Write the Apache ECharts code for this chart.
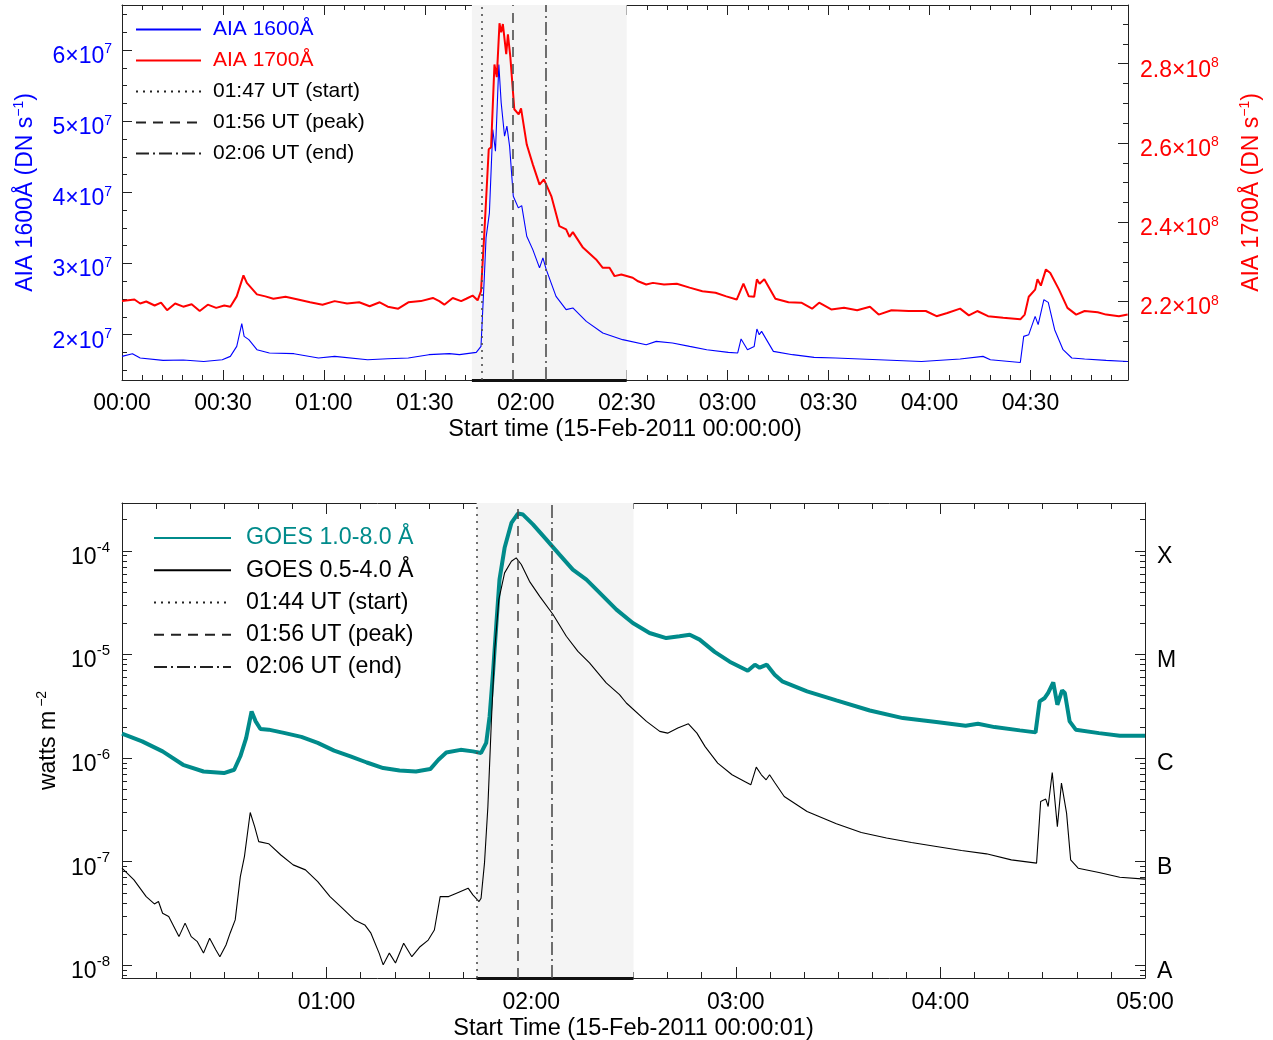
<!DOCTYPE html>
<html>
<head>
<meta charset="utf-8">
<title>15-Feb-2011 flare: AIA UV and GOES X-ray light curves</title>
<script src="https://cdn.jsdelivr.net/npm/echarts@6/dist/echarts.min.js"></script>
<style>
  html, body { margin: 0; padding: 0; background: #ffffff; }
  #chart { width: 1273px; height: 1040px; }
</style>
</head>
<body>
<div id="chart"></div>
<script>
// ---------------------------------------------------------------------------
// AIA UV light curves, time in minutes after 15-Feb-2011 00:00:00, DN s^-1
// ---------------------------------------------------------------------------
const aia1600Time = [0, 3.1, 5.4, 12.2, 18.2, 24.3, 29.8, 32.2, 34.1, 35.6,
  36.3, 37.7, 40.1, 43.8, 51.1, 58.4, 63.2, 73.0, 79.0, 85.1,
  91.2, 97.3, 100.3, 105.3, 106.7, 107.7, 108.2, 109.2, 110.2, 111.0,
  112.0, 112.7, 113.7, 114.4, 115.2, 116.3, 117.8, 118.8, 120.3, 122.1,
  124.1, 125.1, 126.1, 129.0, 132.0, 134.0, 138.0, 142.9, 148.8, 155.8,
  158.8, 163.6, 168.7, 173.8, 180.2, 183.0, 184.0, 185.9, 187.9, 188.7,
  189.4, 190.1, 193.6, 199.3, 205.7, 212.1, 224.9, 237.6, 249.1, 255.9,
  258.1, 267.0, 268.0, 269.5, 271.4, 272.3, 274.0, 275.3, 277.2, 279.7,
  282.3, 286.1, 292.5, 298.9];
const aia1600 = [1.695e7, 1.733e7, 1.672e7, 1.639e7, 1.644e7, 1.624e7, 1.648e7, 1.695e7, 1.835e7, 2.155e7,
  1.976e7, 1.930e7, 1.789e7, 1.743e7, 1.733e7, 1.672e7, 1.695e7, 1.648e7, 1.662e7, 1.672e7,
  1.719e7, 1.733e7, 1.719e7, 1.751e7, 1.835e7, 2.820e7, 3.360e7, 3.712e7, 4.883e7, 4.578e7,
  5.797e7, 5.259e7, 4.789e7, 4.930e7, 4.648e7, 3.945e7, 3.782e7, 3.814e7, 3.383e7, 3.195e7,
  2.938e7, 3.079e7, 2.914e7, 2.539e7, 2.352e7, 2.376e7, 2.187e7, 2.024e7, 1.930e7, 1.859e7,
  1.906e7, 1.883e7, 1.835e7, 1.789e7, 1.751e7, 1.743e7, 1.940e7, 1.789e7, 1.835e7, 2.080e7,
  2.000e7, 2.046e7, 1.765e7, 1.719e7, 1.681e7, 1.672e7, 1.648e7, 1.624e7, 1.658e7, 1.695e7,
  1.648e7, 1.610e7, 1.976e7, 2.000e7, 2.257e7, 2.141e7, 2.492e7, 2.454e7, 2.070e7, 1.789e7,
  1.672e7, 1.658e7, 1.639e7, 1.624e7];

const aia1700Time = [0, 3.7, 5.4, 7.2, 9.7, 11.6, 13.4, 15.8, 18.2, 20.7,
  23.1, 25.5, 28.0, 30.4, 32.2, 34.1, 36.1, 37.1, 40.1, 42.6,
  45.0, 48.6, 52.3, 55.9, 59.6, 63.2, 66.9, 70.5, 73.6, 76.6,
  79.0, 82.1, 85.1, 88.8, 92.4, 94.3, 95.8, 98.3, 100.8, 102.3,
  104.2, 105.7, 106.7, 107.7, 109.0, 109.7, 110.7, 111.4, 112.2, 112.7,
  113.2, 114.2, 114.7, 115.4, 116.6, 117.9, 118.6, 120.3, 122.1, 124.1,
  125.4, 127.6, 130.0, 132.0, 133.0, 134.0, 137.0, 140.9, 142.9, 144.9,
  146.4, 148.4, 151.8, 153.4, 155.8, 157.8, 161.1, 164.9, 168.7, 172.5,
  176.4, 179.6, 182.7, 184.7, 186.3, 187.9, 188.7, 189.5, 190.9, 194.2,
  198.1, 201.9, 205.1, 207.2, 210.8, 214.6, 218.5, 222.3, 224.9, 228.7,
  233.8, 238.9, 242.1, 245.3, 249.1, 251.7, 254.2, 257.4, 261.9, 267.0,
  268.3, 269.5, 271.4, 272.1, 273.1, 274.6, 275.9, 278.5, 281.0, 283.6,
  286.1, 290.0, 292.5, 296.3, 298.9];
const aia1700 = [2.201e8, 2.205e8, 2.195e8, 2.200e8, 2.190e8, 2.197e8, 2.178e8, 2.195e8, 2.187e8, 2.193e8,
  2.176e8, 2.192e8, 2.184e8, 2.190e8, 2.187e8, 2.213e8, 2.266e8, 2.247e8, 2.218e8, 2.213e8,
  2.207e8, 2.212e8, 2.205e8, 2.198e8, 2.192e8, 2.201e8, 2.195e8, 2.198e8, 2.188e8, 2.198e8,
  2.187e8, 2.182e8, 2.198e8, 2.201e8, 2.209e8, 2.201e8, 2.192e8, 2.209e8, 2.201e8, 2.207e8,
  2.215e8, 2.203e8, 2.226e8, 2.374e8, 2.584e8, 2.589e8, 2.798e8, 2.766e8, 2.902e8, 2.879e8,
  2.900e8, 2.824e8, 2.874e8, 2.819e8, 2.685e8, 2.672e8, 2.687e8, 2.596e8, 2.546e8, 2.495e8,
  2.508e8, 2.466e8, 2.390e8, 2.382e8, 2.363e8, 2.375e8, 2.336e8, 2.306e8, 2.285e8, 2.285e8,
  2.264e8, 2.268e8, 2.260e8, 2.251e8, 2.243e8, 2.247e8, 2.243e8, 2.245e8, 2.235e8, 2.226e8,
  2.222e8, 2.213e8, 2.205e8, 2.245e8, 2.213e8, 2.212e8, 2.256e8, 2.245e8, 2.256e8, 2.207e8,
  2.198e8, 2.197e8, 2.182e8, 2.197e8, 2.180e8, 2.184e8, 2.178e8, 2.187e8, 2.167e8, 2.178e8,
  2.176e8, 2.176e8, 2.163e8, 2.171e8, 2.182e8, 2.165e8, 2.176e8, 2.163e8, 2.159e8, 2.155e8,
  2.167e8, 2.212e8, 2.230e8, 2.256e8, 2.240e8, 2.281e8, 2.272e8, 2.230e8, 2.184e8, 2.167e8,
  2.176e8, 2.173e8, 2.167e8, 2.163e8, 2.167e8];

// ---------------------------------------------------------------------------
// GOES X-ray flux, time in minutes after 15-Feb-2011 00:00:01, W m^-2
// ---------------------------------------------------------------------------
const goesLongTime = [0, 5.9, 11.9, 17.9, 23.9, 29.9, 32.9, 34.7, 36.4, 38.0,
  39.2, 40.6, 43.0, 47.8, 52.6, 57.4, 62.2, 67.0, 71.8, 76.6,
  81.4, 86.2, 90.4, 92.8, 95.1, 99.3, 102.9, 105.3, 106.8, 107.8,
  108.8, 109.8, 110.7, 112.2, 114.2, 116.1, 117.6, 120.5, 124.4, 128.3,
  132.2, 136.2, 140.1, 145.0, 149.8, 154.7, 159.6, 163.5, 166.5, 169.4,
  173.8, 178.2, 183.5, 185.6, 187.0, 189.1, 191.4, 193.6, 200.9, 209.5,
  219.3, 229.0, 238.8, 247.4, 251.0, 255.9, 263.3, 267.9, 269.1, 270.6,
  271.6, 273.1, 274.3, 275.7, 276.5, 277.9, 279.7, 286.5, 292.6, 300];
const goesLong = [1.72e-6, 1.45e-6, 1.16e-6, 8.61e-7, 7.42e-7, 7.16e-7, 7.71e-7, 1.04e-6, 1.56e-6, 2.82e-6,
  2.26e-6, 1.91e-6, 1.88e-6, 1.74e-6, 1.60e-6, 1.40e-6, 1.18e-6, 1.04e-6, 9.06e-7, 8.00e-7,
  7.59e-7, 7.42e-7, 7.83e-7, 9.63e-7, 1.13e-6, 1.20e-6, 1.16e-6, 1.12e-6, 1.40e-6, 2.52e-6,
  6.62e-6, 2.01e-5, 5.28e-5, 1.07e-4, 1.86e-4, 2.29e-4, 2.24e-4, 1.80e-4, 1.29e-4, 9.21e-5,
  6.59e-5, 5.28e-5, 3.93e-5, 2.71e-5, 2.01e-5, 1.61e-5, 1.44e-5, 1.50e-5, 1.55e-5, 1.39e-5,
  1.06e-5, 8.52e-6, 6.97e-6, 7.97e-6, 7.45e-6, 7.97e-6, 6.38e-6, 5.50e-6, 4.40e-6, 3.60e-6,
  2.88e-6, 2.43e-6, 2.23e-6, 2.05e-6, 2.14e-6, 1.99e-6, 1.85e-6, 1.77e-6, 3.52e-6, 3.80e-6,
  4.25e-6, 5.37e-6, 3.27e-6, 4.50e-6, 4.25e-6, 2.26e-6, 1.88e-6, 1.74e-6, 1.64e-6, 1.64e-6];

const goesShortTime = [0, 3.5, 7.1, 9.5, 10.7, 11.9, 13.7, 16.7, 18.5, 20.3,
  22.1, 23.9, 25.7, 27.5, 28.7, 30.5, 31.7, 33.2, 34.7, 35.9,
  37.6, 38.9, 40.1, 43.0, 46.6, 50.2, 53.8, 57.4, 61.0, 64.6,
  68.2, 71.2, 73.0, 75.4, 76.6, 78.4, 80.2, 82.6, 85.0, 87.4,
  89.8, 91.6, 93.3, 95.8, 98.1, 101.5, 102.9, 104.7, 105.3, 106.3,
  107.3, 108.3, 109.3, 110.5, 112.2, 114.2, 115.6, 117.1, 119.5, 122.5,
  126.4, 130.3, 133.7, 137.1, 142.0, 145.9, 147.9, 153.8, 157.7, 160.0,
  163.0, 166.1, 168.6, 171.0, 174.7, 178.9, 182.6, 184.4, 186.0, 187.5,
  188.9, 189.9, 191.4, 194.2, 200.9, 209.5, 216.8, 224.2, 231.5, 238.8,
  246.2, 253.5, 260.8, 268.2, 269.4, 270.9, 271.6, 272.8, 274.3, 275.5,
  277.0, 278.2, 280.4, 286.5, 292.6, 300];
const goesShort = [8.65e-8, 6.67e-8, 4.60e-8, 3.91e-8, 4.12e-8, 3.18e-8, 2.95e-8, 1.89e-8, 2.55e-8, 1.89e-8,
  1.69e-8, 1.31e-8, 1.82e-8, 1.41e-8, 1.21e-8, 1.57e-8, 2.04e-8, 2.74e-8, 7.18e-8, 1.12e-7,
  2.98e-7, 2.18e-7, 1.56e-7, 1.49e-7, 1.16e-7, 9.31e-8, 8.33e-8, 6.42e-8, 4.60e-8, 3.56e-8,
  2.74e-8, 2.45e-8, 2.04e-8, 1.31e-8, 1.01e-8, 1.31e-8, 1.05e-8, 1.63e-8, 1.21e-8, 1.51e-8,
  1.75e-8, 2.19e-8, 4.60e-8, 4.60e-8, 4.96e-8, 5.55e-8, 4.78e-8, 4.12e-8, 4.44e-8, 9.67e-8,
  3.41e-7, 2.18e-6, 1.11e-5, 3.38e-5, 6.13e-5, 7.94e-5, 8.56e-5, 7.38e-5, 5.08e-5, 3.64e-5,
  2.43e-5, 1.50e-5, 1.07e-5, 8.28e-6, 5.31e-6, 4.09e-6, 3.40e-6, 2.26e-6, 1.81e-6, 1.74e-6,
  1.95e-6, 2.14e-6, 1.74e-6, 1.29e-6, 8.95e-7, 6.90e-7, 5.94e-7, 5.52e-7, 8.18e-7, 6.90e-7,
  6.17e-7, 6.90e-7, 5.81e-7, 4.26e-7, 3.05e-7, 2.32e-7, 1.91e-7, 1.69e-7, 1.53e-7, 1.40e-7,
  1.28e-7, 1.19e-7, 1.04e-7, 9.67e-8, 3.81e-7, 4.02e-7, 3.41e-7, 7.26e-7, 2.18e-7, 5.73e-7,
  2.94e-7, 1.04e-7, 8.65e-8, 7.85e-8, 7.08e-8, 6.78e-8];

// ---------------------------------------------------------------------------
// Flare timing (minutes) and tick labels
// ---------------------------------------------------------------------------
const aiaEventTimes = [107, 116, 126];
const aiaEventNames = ['01:47 UT (start)', '01:56 UT (peak)', '02:06 UT (end)'];
const goesEventTimes = [104, 116, 126];
const goesEventNames = ['01:44 UT (start)', '01:56 UT (peak)', '02:06 UT (end)'];
const flareWindow = [104, 150];

const aiaTimeTicks = [0, 30, 60, 90, 120, 150, 180, 210, 240, 270];
const goesTimeTicks = [60, 120, 180, 240, 300];
const aia1600Ticks = [2e7, 3e7, 4e7, 5e7, 6e7];
const aia1700Ticks = [2.2e8, 2.4e8, 2.6e8, 2.8e8];
const goesDecades = [-8, -7, -6, -5, -4];
const goesClasses = ['A', 'B', 'C', 'M', 'X'];

// ---------------------------------------------------------------------------
const FONT = "'Liberation Sans', Arial, Helvetica, sans-serif";
const FS = 23;          // tick labels and axis titles
const AXIS = '#222';
const BLUE = '#0000ff';
const RED = '#ff0000';
const TEAL = '#008b8b';
const EVENT = '#4d4d4d';
const EVENT_DASH = [[2, 5], [10, 7], [13, 4, 2, 4]];

// axis extents
const aiaX = [0, 299];
const goesX = [0, 300];
const y1600 = [1.363e7, 6.633e7];
const y1700 = [2.002e8, 2.948e8];
const yGoes = [-8.123, -3.538];

const hhmm = m => String(Math.floor(m / 60)).padStart(2, '0') + ':' + String(Math.round(m % 60)).padStart(2, '0');

// evenly spaced minor tick positions between majors
function minorTicks(lo, hi, step, majorStep) {
  const out = [];
  const n0 = Math.ceil(lo / step - 1e-9), n1 = Math.floor(hi / step + 1e-9);
  for (let n = n0; n <= n1; n++) {
    const v = n * step;
    const r = v / majorStep;
    if (Math.abs(r - Math.round(r)) > 1e-6) out.push(v);
  }
  return out;
}
// logarithmic minor ticks (2..9 x 10^n), in log10 units
function logMinorTicks(lo, hi) {
  const out = [];
  for (let n = Math.floor(lo) - 1; n <= Math.ceil(hi); n++) {
    for (let k = 2; k <= 9; k++) {
      const v = n + Math.log10(k);
      if (v >= lo && v <= hi) out.push(v);
    }
  }
  return out;
}

function tickAxis(gridIndex, position, extent, ticks, len, extra) {
  return Object.assign({
    type: 'value', gridIndex, position, min: extent[0], max: extent[1],
    axisLine: { show: false, onZero: false },
    splitLine: { show: false },
    axisTick: { show: true, inside: true, length: len, customValues: ticks,
      lineStyle: { color: AXIS, width: 1 } },
    axisLabel: { show: false }
  }, extra || {});
}
const lineOn = { show: true, onZero: false, lineStyle: { color: AXIS, width: 1 } };

const supRich = (color, base, sup, lift) => ({
  b: { fontFamily: FONT, fontSize: base, lineHeight: 24, color },
  s: { fontFamily: FONT, fontSize: sup, lineHeight: sup, padding: [0, 0, lift, 0], color }
});
const titleRich = color => ({
  a: { fontFamily: FONT, fontSize: FS, color },
  s: { fontFamily: FONT, fontSize: 14, padding: [0, 0, 14, 0], color }
});

// ---------------------------------------------------------------------------
// axes: grid 0 = AIA panel, grid 1 = GOES panel
// ---------------------------------------------------------------------------
const xAxes = [
  tickAxis(0, 'bottom', aiaX, aiaTimeTicks, 10, {
    axisLine: lineOn,
    name: 'Start time (15-Feb-2011 00:00:00)', nameLocation: 'middle', nameGap: 38,
    nameTextStyle: { fontFamily: FONT, fontSize: 23.5, color: '#000' },
    axisLabel: { show: true, customValues: aiaTimeTicks, formatter: v => hhmm(v), margin: 12,
      fontFamily: FONT, fontSize: FS, color: '#000' }
  }),
  tickAxis(0, 'bottom', aiaX, minorTicks(aiaX[0], aiaX[1], 6, 30), 5),
  tickAxis(0, 'top', aiaX, aiaTimeTicks, 10, { axisLine: lineOn }),
  tickAxis(0, 'top', aiaX, minorTicks(aiaX[0], aiaX[1], 6, 30), 5),

  tickAxis(1, 'bottom', goesX, goesTimeTicks, 11, {
    axisLine: lineOn,
    name: 'Start Time (15-Feb-2011 00:00:01)', nameLocation: 'middle', nameGap: 39,
    nameTextStyle: { fontFamily: FONT, fontSize: 23.5, color: '#000' },
    axisLabel: { show: true, customValues: goesTimeTicks, formatter: v => hhmm(v), margin: 13,
      fontFamily: FONT, fontSize: FS, color: '#000' }
  }),
  tickAxis(1, 'bottom', goesX, minorTicks(goesX[0], goesX[1], 10, 60), 6),
  tickAxis(1, 'top', goesX, goesTimeTicks, 11, { axisLine: lineOn }),
  tickAxis(1, 'top', goesX, minorTicks(goesX[0], goesX[1], 10, 60), 6)
];

const yAxes = [
  tickAxis(0, 'left', y1600, aia1600Ticks, 10, {
    axisLine: lineOn,
    name: '{a|AIA 1600Å (DN s}{s|−1}{a|)}', nameLocation: 'middle', nameGap: 82, nameRotate: 90,
    nameTextStyle: { color: BLUE, rich: titleRich(BLUE) },
    axisLabel: { show: true, customValues: aia1600Ticks, margin: 10, padding: [13, 0, 0, 0],
      formatter: v => '{b|' + Math.round(v / 1e7) + '×10}{s|7}',
      rich: supRich(BLUE, FS, 14, 14) }
  }),
  tickAxis(0, 'left', y1600, minorTicks(y1600[0], y1600[1], 0.25e7, 1e7), 5),
  tickAxis(0, 'right', y1700, aia1700Ticks, 10, {
    axisLine: lineOn,
    name: '{a|AIA 1700Å (DN s}{s|−1}{a|)}', nameLocation: 'middle', nameGap: 110, nameRotate: 90,
    nameTextStyle: { color: RED, rich: titleRich(RED) },
    axisLabel: { show: true, customValues: aia1700Ticks, margin: 12, padding: [13, 0, 0, 0],
      formatter: v => '{b|' + (v / 1e8).toFixed(1) + '×10}{s|8}',
      rich: supRich(RED, FS, 14, 14) }
  }),
  tickAxis(0, 'right', y1700, minorTicks(y1700[0], y1700[1], 0.05e8, 0.2e8), 5),

  tickAxis(1, 'left', yGoes, goesDecades, 10, {
    axisLine: lineOn,
    name: '{a|watts m}{s|−2}', nameLocation: 'middle', nameGap: 58, nameRotate: 90,
    nameTextStyle: { color: '#000', rich: {
      a: { fontFamily: FONT, fontSize: FS, color: '#000' },
      s: { fontFamily: FONT, fontSize: 14, padding: [0, 0, 14, 4], color: '#000' } } },
    axisLabel: { show: true, customValues: goesDecades, margin: 12, padding: [13, 0, 0, 0],
      formatter: v => '{b|10}{s|' + Math.round(v) + '}',
      rich: supRich('#000', FS, 15, 20) }
  }),
  tickAxis(1, 'left', yGoes, logMinorTicks(yGoes[0], yGoes[1]), 5),
  tickAxis(1, 'right', yGoes, goesDecades, 10, {
    axisLine: lineOn,
    axisLabel: { show: true, customValues: goesDecades, margin: 12,
      formatter: v => '{c|' + goesClasses[Math.round(v) - goesDecades[0]] + '}',
      rich: { c: { fontFamily: FONT, fontSize: FS, lineHeight: 24, color: '#000', padding: [12, 0, 0, 0] } } }
  }),
  tickAxis(1, 'right', yGoes, logMinorTicks(yGoes[0], yGoes[1]), 5)
];

// ---------------------------------------------------------------------------
// series
// ---------------------------------------------------------------------------
const pairs = (ts, vs, f) => ts.map((t, i) => [t, f ? f(vs[i]) : vs[i]]);

// grey flare window plus the heavy bar along the time axis
function windowSeries(xi, yi, yMin) {
  return {
    type: 'line', xAxisIndex: xi, yAxisIndex: yi, data: [], z: 1, silent: true,
    markArea: { silent: true, itemStyle: { color: '#f4f4f4' },
      data: [[{ xAxis: flareWindow[0] }, { xAxis: flareWindow[1] }]] },
    markLine: { silent: true, symbol: 'none', label: { show: false },
      lineStyle: { color: '#111', width: 3, type: 'solid' },
      data: [[{ coord: [flareWindow[0], yMin] }, { coord: [flareWindow[1], yMin] }]] }
  };
}
// vertical start / peak / end markers
function eventSeries(xi, yi, names, times) {
  return names.map((name, k) => ({
    name, type: 'line', xAxisIndex: xi, yAxisIndex: yi, data: [], z: 4, symbol: 'none',
    itemStyle: { color: '#222' },
    lineStyle: { color: '#222', width: 1.3, type: EVENT_DASH[k] },
    markLine: { silent: true, symbol: 'none', label: { show: false },
      lineStyle: { color: EVENT, width: 1.6, type: EVENT_DASH[k] },
      data: [{ xAxis: times[k] }] }
  }));
}

const series = [
  windowSeries(0, 0, y1600[0]),
  { name: 'AIA 1600Å', type: 'line', xAxisIndex: 0, yAxisIndex: 0, z: 3, symbol: 'none',
    data: pairs(aia1600Time, aia1600), lineStyle: { color: BLUE, width: 1.1 }, itemStyle: { color: BLUE } },
  { name: 'AIA 1700Å', type: 'line', xAxisIndex: 0, yAxisIndex: 2, z: 3, symbol: 'none',
    data: pairs(aia1700Time, aia1700), lineStyle: { color: RED, width: 2 }, itemStyle: { color: RED } },
  ...eventSeries(0, 0, aiaEventNames, aiaEventTimes),

  windowSeries(4, 4, yGoes[0]),
  { name: 'GOES 1.0-8.0 Å', type: 'line', xAxisIndex: 4, yAxisIndex: 4, z: 3, symbol: 'none',
    data: pairs(goesLongTime, goesLong, Math.log10), lineStyle: { color: TEAL, width: 4 }, itemStyle: { color: TEAL } },
  { name: 'GOES 0.5-4.0 Å', type: 'line', xAxisIndex: 4, yAxisIndex: 4, z: 3, symbol: 'none',
    data: pairs(goesShortTime, goesShort, Math.log10), lineStyle: { color: '#000', width: 1.1 }, itemStyle: { color: '#000' } },
  ...eventSeries(4, 4, goesEventNames, goesEventTimes)
];

// legend keys are plain line samples, no point markers
const legendBase = {
  orient: 'vertical', padding: 0, itemGap: 0, itemHeight: 14, selectedMode: false,
  itemStyle: { opacity: 0, borderWidth: 0 }
};
const option = {
  animation: false,
  backgroundColor: '#ffffff',
  // both panels keep their exact plot boxes; labels may sit near the page edge
  grid: [
    { left: 122, top: 5, width: 1006, height: 375, outerBoundsMode: 'none' },
    { left: 122, top: 503, width: 1023, height: 475, outerBoundsMode: 'none' }
  ],
  xAxis: xAxes,
  yAxis: yAxes,
  legend: [
    Object.assign({}, legendBase, {
      left: 135, top: 14, itemWidth: 65,
      textStyle: { fontFamily: FONT, fontSize: 21, color: '#000', lineHeight: 31, padding: [0, 0, 0, 7] },
      data: [
        { name: 'AIA 1600Å', textStyle: { color: BLUE } },
        { name: 'AIA 1700Å', textStyle: { color: RED } },
        ...aiaEventNames.map(n => ({ name: n }))
      ] }),
    Object.assign({}, legendBase, {
      left: 153, top: 522, itemWidth: 77,
      textStyle: { fontFamily: FONT, fontSize: 23.2, color: '#000', lineHeight: 32.2, padding: [0, 0, 0, 10] },
      data: [
        { name: 'GOES 1.0-8.0 Å', textStyle: { color: TEAL } },
        { name: 'GOES 0.5-4.0 Å' },
        ...goesEventNames.map(n => ({ name: n }))
      ] })
  ],
  series
};

const chart = echarts.init(document.getElementById('chart'), null, { renderer: 'canvas' });
chart.setOption(option);
</script>
</body>
</html>
